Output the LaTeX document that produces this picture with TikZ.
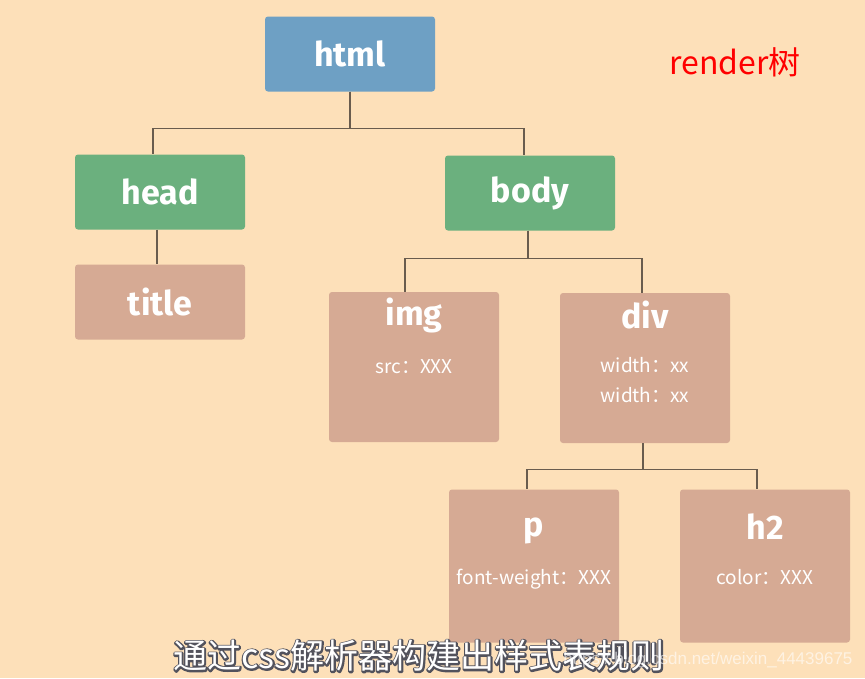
\documentclass[tikz,border=0pt]{standalone}
\usepackage{fontspec}
\setmainfont{Fira Sans}
\newfontfamily\cjk{Noto Sans CJK SC}
\newfontfamily\markfont{Liberation Sans}
\usetikzlibrary{positioning}

\definecolor{paper}{RGB}{253,224,185}
\definecolor{rootfill}{RGB}{110,160,196}
\definecolor{branchfill}{RGB}{107,176,126}
\definecolor{leaffill}{RGB}{214,170,148}
\definecolor{wire}{RGB}{105,92,78}

% outlined text: thick stroke behind, white fill on top
\newcommand{\outlined}[1]{\rlap{\special{pdf:literal direct 1 Tr 3.2 w 1 J 1 j 0.32 0.32 0.36 RG}#1\special{pdf:literal direct 0 Tr}}#1}

\tikzset{
    box/.style={rounded corners=3pt, minimum width=170pt, minimum height=75pt, inner sep=0pt},
    tallbox/.style={box, fill=leaffill, minimum height=150pt},
    tag/.style={text=white, font=\bfseries\fontsize{34}{34}\selectfont},
    attr/.style={text=white, font=\cjk\fontsize{19}{19}\selectfont, anchor=base},
    link/.style={draw=wire, line width=1.2pt},
    subtitle/.style={text=white, font=\cjk\fontsize{34}{34}\selectfont}
}

\begin{document}
\begin{tikzpicture}[x=1pt, y=-1pt]
    \fill[paper] (0,0) rectangle (865,678);
    \useasboundingbox (0,0) rectangle (865,678);

    \node[box, fill=rootfill, tag] (html) at (350,54) {html};
    \node[box, fill=branchfill, tag] (head) at (160,192) {head};
    \node[box, fill=branchfill, tag] (body) at (530,193) {body};
    \node[box, fill=leaffill, tag] (title) at (160,302) {title};

    \node[tallbox] (img) at (414,367) {};
    \node[tallbox] (div) at (645,368) {};
    \node[tallbox, minimum height=153pt] (p) at (534,566) {};
    \node[tallbox, minimum height=153pt] (h2) at (765,566) {};

    \node[tag, anchor=base] (img-tag) at ([yshift=-34pt]img.north) {img};
    \node[attr] (img-src) at ([yshift=-82pt]img.north) {src：XXX};
    \node[tag, anchor=base] (div-tag) at ([yshift=-36pt]div.north) {div};
    \node[attr] (div-w1) at ([yshift=-80pt]div.north) {width：xx};
    \node[attr] (div-w2) at ([yshift=-110pt]div.north) {width：xx};
    \node[tag, anchor=base] (p-tag) at ([yshift=-47pt]p.north) {p};
    \node[attr] (p-fw) at ([yshift=-95pt]p.north) {font-weight：XXX};
    \node[tag, anchor=base] (h2-tag) at ([yshift=-50pt]h2.north) {h2};
    \node[attr] (h2-color) at ([yshift=-95pt]h2.north) {color：XXX};

    \node[text=red, font=\cjk\fontsize{32}{32}\selectfont] (caption) at (735,62) {render树};

    % tree links
    \draw[link] (html.south) -- ++(0,37) -| ([xshift=-7pt]head.north);
    \draw[link] (html.south) -- ++(0,37) -| ([xshift=-6pt]body.north);
    \draw[link] ([xshift=-3pt]head.south) -- ([xshift=-3pt]title.north);
    \draw[link] ([xshift=-2pt]body.south) -- ++(0,28) -| ([xshift=-9pt]img.north);
    \draw[link] ([xshift=-2pt]body.south) -- ++(0,28) -| ([xshift=-3pt]div.north);
    \draw[link] ([xshift=-2pt]div.south) -- ++(0,26) -| ([xshift=-7pt]p.north);
    \draw[link] ([xshift=-2pt]div.south) -- ++(0,26) -| ([xshift=-8pt]h2.north);

    % subtitle and watermark
    \node[subtitle] (sub) at (419,656) {\outlined{通过css解析器构建出样式表规则}};
    \node[anchor=east, text=white, opacity=0.6, font=\markfont\fontsize{17}{17}\selectfont] (mark) at (856,660) {https://blog.csdn.net/weixin\_44439675};
\end{tikzpicture}
\end{document}
